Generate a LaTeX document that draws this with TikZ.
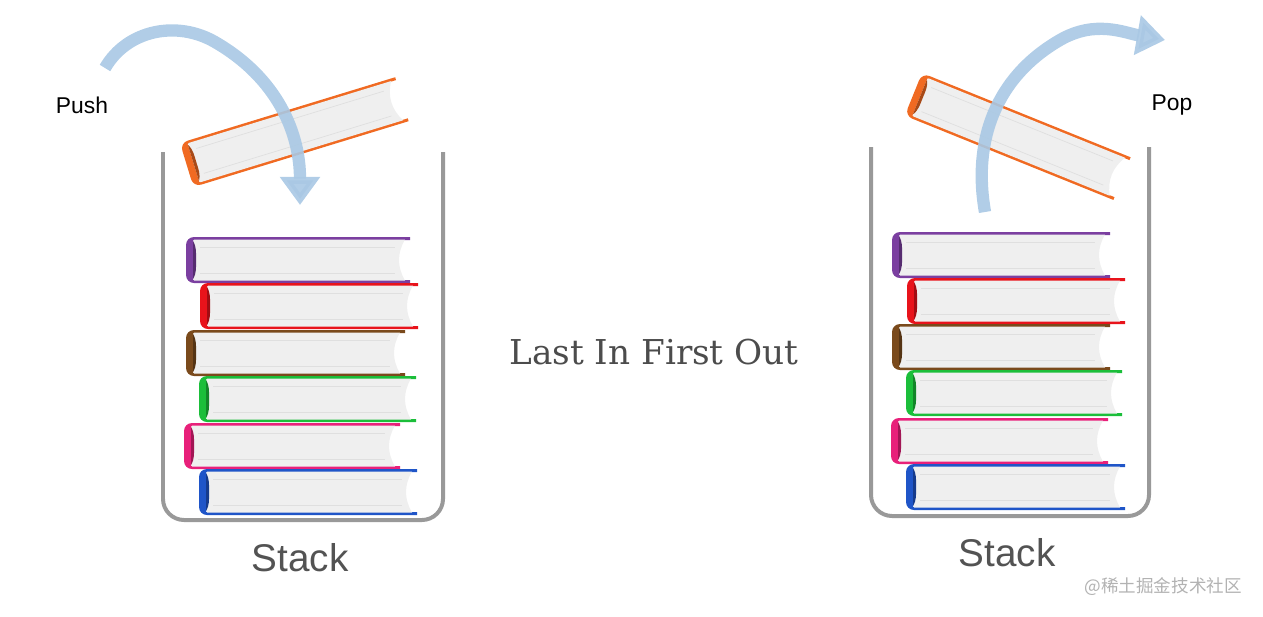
\documentclass[tikz,border=0pt]{standalone}
\usepackage{fontspec}
\setmainfont{Liberation Sans}
\newfontfamily\serifx{DejaVu Serif}
\newfontfamily\cjk{Noto Sans CJK SC}
\usetikzlibrary{arrows.meta}
\definecolor{arr}{HTML}{A9C8E4}
\definecolor{cpurple}{HTML}{7B3FA0}
\definecolor{cred}{HTML}{E8131B}
\definecolor{cbrown}{HTML}{7A4A1C}
\definecolor{cgreen}{HTML}{1BBE3A}
\definecolor{cpink}{HTML}{E8207A}
\definecolor{cblue}{HTML}{1F55C8}
\definecolor{corange}{HTML}{F06A22}
\definecolor{pagec}{HTML}{EFEFEF}
\tikzset{
  jar/.style={draw=gray!80, line width=4*0.567pt, rounded corners=12pt},
  lbl/.style={font=\fontsize{13}{15}\selectfont, text=black},
  stk/.style={font=\fontsize{22}{26}\selectfont, text=gray!65!black},
  arrowx/.style={draw=arr, line width=7pt, opacity=0.9, -{Triangle[width=22pt,length=16pt]}},
}
% \bk{x}{y}{width}{colour}{rotation}  (x,y = top-left in px; rotation about that point)
\newcommand{\bk}[5]{%
 \begin{scope}[shift={(#1,-#2)}, rotate=#5]
  \fill[#4] (#3,0) -- (8,0) to[out=180,in=90] (0,-8) -- (0,-38) to[out=-90,in=180] (8,-46) -- (#3,-46) -- (#3,-43) -- (7,-43) -- (7,-3) -- (#3,-3) -- cycle;
  \fill[pagec] (8,-2.5) -- (#3-5,-2.5) to[out=-120,in=120] (#3-5,-43.5) -- (8,-43.5) -- cycle;
  \fill[#4!70!black] (7,-4) to[out=-60,in=90] (10,-23) to[out=-90,in=60] (7,-42) -- cycle;
  \draw[gray!25, line width=0.4pt] (14,-10) -- (#3-15,-10) (14,-36) -- (#3-15,-36);
 \end{scope}}
\begin{document}
\begin{tikzpicture}[x=0.02cm,y=0.02cm]
\useasboundingbox (0,0) rectangle (1263,-616);
% left
\draw[jar] (163,-152) -- (163,-520) -- (443,-520) -- (443,-152);
\bk{186}{237}{224}{cpurple}{0}
\bk{200}{283}{218}{cred}{0}
\bk{186}{330}{219}{cbrown}{0}
\bk{199}{376}{217}{cgreen}{0}
\bk{184}{423}{216}{cpink}{0}
\bk{199}{469}{218}{cblue}{0}
\bk{180}{143}{225}{corange}{17}
\path[arrowx] (105,-68) to[out=60,in=150] (215,-42) to[out=-30,in=90] (300,-205);
\node[lbl] (push) at (82,-105) {Push};
\node[stk] (s1) at (300,-558) {Stack};
% right
\draw[jar] (871,-147) -- (871,-516) -- (1149,-516) -- (1149,-147);
\bk{892}{232}{218}{cpurple}{0}
\bk{907}{278}{218}{cred}{0}
\bk{892}{324}{218}{cbrown}{0}
\bk{906}{370}{216}{cgreen}{0}
\bk{891}{418}{217}{cpink}{0}
\bk{906}{464}{219}{cblue}{0}
\bk{922}{73}{225}{corange}{-22}
\path[arrowx] (985,-212) to[out=100,in=-150] (1060,-40) to[out=30,in=170] (1165,-40);
\node[lbl] (pop) at (1172,-105) {Pop};
\node[stk] (s2) at (1007,-553) {Stack};
\node[font=\serifx\fontsize{19.5}{23}\selectfont, text=gray!60!black] (lifo) at (654,-352) {Last In First Out};
\node[font=\cjk\fontsize{10}{12}\selectfont, text=gray!60, anchor=east] (wm) at (1248,-587) {@稀土掘金技术社区};
\end{tikzpicture}
\end{document}
